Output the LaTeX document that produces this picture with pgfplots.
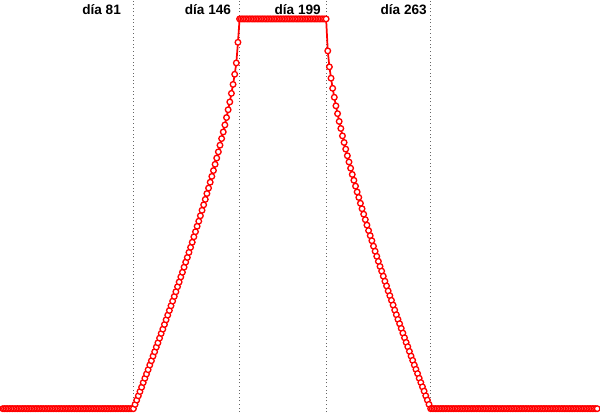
\documentclass[border=0pt]{standalone}
\usepackage{pgfplots}
\pgfplotsset{compat=1.18}
\usepackage{fontspec}
\setmainfont{Liberation Sans}
\begin{document}
\begin{tikzpicture}
\begin{axis}[hide axis, scale only axis, width=445.5pt, height=292.1pt,
  xmin=1, xmax=365, ymin=0, ymax=1, clip=false]
\addplot[gray!80!black, dotted, line width=0.7pt, forget plot] coordinates {(81,-0.009) (81,1.046)};
\addplot[gray!80!black, dotted, line width=0.7pt, forget plot] coordinates {(146,-0.009) (146,1.046)};
\addplot[gray!80!black, dotted, line width=0.7pt, forget plot] coordinates {(199,-0.009) (199,1.046)};
\addplot[gray!80!black, dotted, line width=0.7pt, forget plot] coordinates {(263,-0.009) (263,1.046)};
\addplot[red, line width=1.3pt, mark=*, mark size=2.1pt, mark options={fill=white, draw=red, line width=1pt}] coordinates {
(1,0) (2,0) (3,0) (4,0) (5,0) (6,0) (7,0) (8,0) (9,0) (10,0)
(11,0) (12,0) (13,0) (14,0) (15,0) (16,0) (17,0) (18,0) (19,0) (20,0)
(21,0) (22,0) (23,0) (24,0) (25,0) (26,0) (27,0) (28,0) (29,0) (30,0)
(31,0) (32,0) (33,0) (34,0) (35,0) (36,0) (37,0) (38,0) (39,0) (40,0)
(41,0) (42,0) (43,0) (44,0) (45,0) (46,0) (47,0) (48,0) (49,0) (50,0)
(51,0) (52,0) (53,0) (54,0) (55,0) (56,0) (57,0) (58,0) (59,0) (60,0)
(61,0) (62,0) (63,0) (64,0) (65,0) (66,0) (67,0) (68,0) (69,0) (70,0)
(71,0) (72,0) (73,0) (74,0) (75,0) (76,0) (77,0) (78,0) (79,0) (80,0)
(81,0)
(82,0.011) (83,0.022) (84,0.033) (85,0.044) (86,0.055) (87,0.067) (88,0.078) (89,0.089) (90,0.100)
(91,0.112) (92,0.123) (93,0.135) (94,0.146) (95,0.158) (96,0.169) (97,0.181) (98,0.193) (99,0.204) (100,0.216)
(101,0.228) (102,0.240) (103,0.252) (104,0.264) (105,0.276) (106,0.288) (107,0.300) (108,0.313) (109,0.325) (110,0.338)
(111,0.350) (112,0.363) (113,0.376) (114,0.388) (115,0.401) (116,0.414) (117,0.427) (118,0.441) (119,0.454) (120,0.468)
(121,0.481) (122,0.495) (123,0.509) (124,0.523) (125,0.537) (126,0.552) (127,0.566) (128,0.581) (129,0.596) (130,0.611)
(131,0.627) (132,0.643) (133,0.659) (134,0.676) (135,0.693) (136,0.710) (137,0.728) (138,0.747) (139,0.767) (140,0.787)
(141,0.809) (142,0.832) (143,0.858) (144,0.887) (145,0.940)
(146,1) (147,1) (148,1) (149,1) (150,1) (151,1) (152,1) (153,1) (154,1) (155,1)
(156,1) (157,1) (158,1) (159,1) (160,1) (161,1) (162,1) (163,1) (164,1) (165,1)
(166,1) (167,1) (168,1) (169,1) (170,1) (171,1) (172,1) (173,1) (174,1) (175,1)
(176,1) (177,1) (178,1) (179,1) (180,1) (181,1) (182,1) (183,1) (184,1) (185,1)
(186,1) (187,1) (188,1) (189,1) (190,1) (191,1) (192,1) (193,1) (194,1) (195,1)
(196,1) (197,1) (198,1) (199,1)
(200,0.918) (201,0.877) (202,0.848) (203,0.822) (204,0.799) (205,0.777) (206,0.757) (207,0.737) (208,0.719) (209,0.700)
(210,0.683) (211,0.666) (212,0.649) (213,0.633) (214,0.617) (215,0.601) (216,0.586) (217,0.571) (218,0.556) (219,0.542)
(220,0.527) (221,0.513) (222,0.499) (223,0.485) (224,0.471) (225,0.457) (226,0.444) (227,0.431) (228,0.417) (229,0.404)
(230,0.391) (231,0.378) (232,0.365) (233,0.353) (234,0.340) (235,0.327) (236,0.315) (237,0.302) (238,0.290) (239,0.278)
(240,0.266) (241,0.253) (242,0.241) (243,0.229) (244,0.218) (245,0.206) (246,0.194) (247,0.182) (248,0.170) (249,0.159)
(250,0.147) (251,0.135) (252,0.124) (253,0.112) (254,0.101) (255,0.090) (256,0.078) (257,0.067) (258,0.056) (259,0.045)
(260,0.033) (261,0.022) (262,0.011)
(263,0) (264,0) (265,0) (266,0) (267,0) (268,0) (269,0) (270,0)
(271,0) (272,0) (273,0) (274,0) (275,0) (276,0) (277,0) (278,0) (279,0) (280,0)
(281,0) (282,0) (283,0) (284,0) (285,0) (286,0) (287,0) (288,0) (289,0) (290,0)
(291,0) (292,0) (293,0) (294,0) (295,0) (296,0) (297,0) (298,0) (299,0) (300,0)
(301,0) (302,0) (303,0) (304,0) (305,0) (306,0) (307,0) (308,0) (309,0) (310,0)
(311,0) (312,0) (313,0) (314,0) (315,0) (316,0) (317,0) (318,0) (319,0) (320,0)
(321,0) (322,0) (323,0) (324,0) (325,0) (326,0) (327,0) (328,0) (329,0) (330,0)
(331,0) (332,0) (333,0) (334,0) (335,0) (336,0) (337,0) (338,0) (339,0) (340,0)
(341,0) (342,0) (343,0) (344,0) (345,0) (346,0) (347,0) (348,0) (349,0) (350,0)
(351,0) (352,0) (353,0) (354,0) (355,0) (356,0) (357,0) (358,0) (359,0) (360,0)
(361,0) (362,0) (363,0) (364,0) (365,0)
};
\node[anchor=base, font=\fontsize{10.2}{12}\selectfont\bfseries] at (axis cs:61.5,1.0116) {día 81};
\node[anchor=base, font=\fontsize{10.2}{12}\selectfont\bfseries] at (axis cs:126.6,1.0116) {día 146};
\node[anchor=base, font=\fontsize{10.2}{12}\selectfont\bfseries] at (axis cs:181.6,1.0116) {día 199};
\node[anchor=base, font=\fontsize{10.2}{12}\selectfont\bfseries] at (axis cs:246.5,1.0116) {día 263};
\end{axis}
\end{tikzpicture}
\end{document}
